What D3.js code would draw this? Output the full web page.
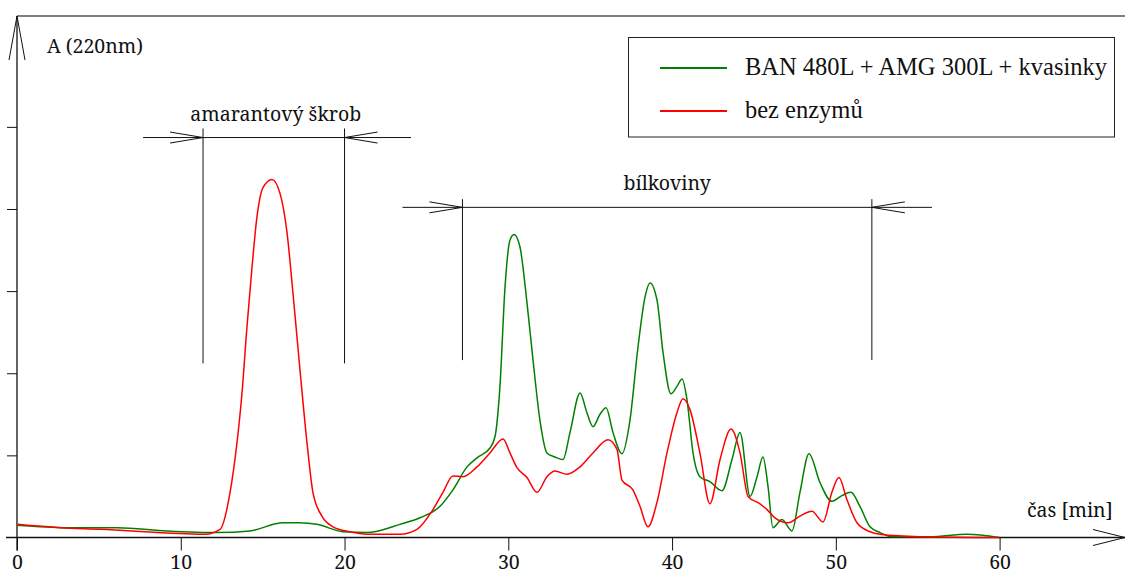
<!DOCTYPE html>
<html>
<head>
<meta charset="utf-8">
<script src="https://cdn.jsdelivr.net/npm/d3@7"></script>
<style>
  html, body { margin: 0; padding: 0; background: #fff; }
  svg { display: block; }
  .lbl { font-family: "Noto Sans", serif; font-family: "Noto Serif", "Liberation Serif", serif; font-size: 19.5px; fill: #111; }
  .leg { font-family: "Liberation Serif", "Times New Roman", serif; font-size: 24.5px; fill: #111; }
</style>
</head>
<body>
<svg id="chart" width="1125" height="574"></svg>
<script>
// Retention time [min] and absorbance at 220 nm for each run
const enzymeTime = [0, 3.05, 6.11, 9.16, 12.21, 14.23, 16.24, 17.28, 18.32, 19.91, 21.37, 23.39, 24.61,
  25.83, 26.62, 27.48, 28.09, 28.88, 29.19, 29.49, 29.80, 30.10, 30.35, 30.71, 31.14, 31.51, 31.93,
  32.36, 32.85, 33.34, 33.77, 34.38, 34.80, 35.17, 35.60, 35.97, 36.39, 36.94, 37.43, 37.92, 38.35,
  38.65, 39.08, 39.45, 39.93, 40.30, 40.61, 40.91, 41.28, 41.70, 42.31, 43.05, 43.66, 44.15, 44.76,
  45.19, 45.55, 45.86, 46.16, 46.71, 47.32, 47.81, 48.36, 49.03, 49.76, 50.37, 50.92, 51.47, 52.09,
  52.70, 53.37, 55.75, 58.01, 59.96];
const enzymeValue = [0.15, 0.12, 0.12, 0.08, 0.06, 0.08, 0.18, 0.18, 0.16, 0.07, 0.06, 0.16, 0.24,
  0.38, 0.58, 0.86, 0.97, 1.09, 1.23, 1.84, 3.05, 3.62, 3.69, 3.54, 2.86, 2.16, 1.43,
  1.03, 0.98, 0.95, 1.28, 1.76, 1.52, 1.35, 1.50, 1.58, 1.28, 1.02, 1.43, 2.32, 2.93,
  3.10, 2.89, 2.25, 1.75, 1.84, 1.93, 1.68, 1.03, 0.74, 0.68, 0.57, 0.95, 1.28, 0.50,
  0.74, 0.98, 0.62, 0.12, 0.22, 0.08, 0.55, 1.02, 0.67, 0.44, 0.51, 0.55, 0.38, 0.13,
  0.06, 0.01, 0.01, 0.04, 0.00];

const plainTime = [0, 2.63, 5.07, 9.95, 11.48, 12.40, 13.01, 13.43, 13.74, 14.04, 14.35, 14.65, 15.02,
  15.57, 16.06, 16.49, 16.85, 17.28, 17.71, 18.07, 18.62, 19.30, 20.33, 21.37, 23.39, 24.42, 25.40,
  26.01, 26.62, 27.23, 28.09, 28.88, 29.68, 30.10, 30.53, 31.14, 31.75, 32.36, 32.85, 33.58, 34.38,
  35.17, 36.09, 36.64, 36.94, 37.61, 38.04, 38.53, 39.08, 39.69, 40.30, 40.67, 41.09, 41.70, 42.31,
  42.93, 43.60, 44.15, 44.64, 45.37, 45.80, 46.28, 47.08, 47.81, 48.54, 49.22, 49.76, 50.19, 50.68,
  51.29, 52.09, 52.70, 55.14, 59.96];
const plainValue = [0.16, 0.12, 0.10, 0.05, 0.04, 0.10, 0.55, 1.15, 1.76, 2.56, 3.29, 3.90, 4.26,
  4.36, 4.19, 3.71, 2.98, 2.04, 1.15, 0.55, 0.26, 0.13, 0.07, 0.04, 0.04, 0.10, 0.34,
  0.55, 0.75, 0.74, 0.86, 1.03, 1.20, 1.03, 0.85, 0.73, 0.55, 0.74, 0.81, 0.77, 0.86,
  1.03, 1.19, 1.07, 0.70, 0.58, 0.38, 0.13, 0.43, 1.03, 1.52, 1.69, 1.56, 1.03, 0.41,
  0.95, 1.32, 1.03, 0.50, 0.41, 0.34, 0.24, 0.18, 0.26, 0.32, 0.19, 0.55, 0.73, 0.46,
  0.18, 0.07, 0.04, 0.01, 0.00];

const seriesNames = ["BAN 480L + AMG 300L + kvasinky", "bez enzymů"];
const seriesColors = ["#008000", "#ff0000"];
const xTicks = [0, 10, 20, 30, 40, 50, 60];
const yTicks = [1, 2, 3, 4, 5];

// Bracketed regions: [start, end] in minutes, bracket height, vertical drop, outer extent
const regionNames = ["amarantový škrob", "bílkoviny"];
const regionSpans = [[11.36, 20.0], [27.2, 52.2]];
const regionLevel = [4.87, 4.02];
const regionTop = [4.98, 4.12];
const regionBottom = [2.12, 2.16];
const regionOuter = [[7.7, 24.06], [23.54, 55.87]];

const svg = d3.select("#chart");
const x = d3.scaleLinear().domain([0, 60]).range([17, 999.6]);
const y = d3.scaleLinear().domain([0, 6.35]).range([537.5, 16]);

// frame top edge
svg.append("line").attr("x1", x(0)).attr("x2", 1125).attr("y1", y(6.35)).attr("y2", y(6.35))
  .attr("stroke", "#808080").attr("stroke-width", 2);

// x axis
const xAxis = svg.append("g").attr("transform", `translate(0,${y(0)})`)
  .call(d3.axisBottom(x).tickValues(xTicks).tickSize(13).tickFormat(d3.format("d")));
xAxis.select(".domain").remove();
xAxis.selectAll(".tick line").attr("stroke", "#111");
xAxis.selectAll(".tick text").attr("class", "lbl").attr("y", 31.5).attr("dy", null)
  .style("font-family", "'Noto Serif', serif").style("font-size", "19.5px").attr("fill", "#111");
svg.append("line").attr("x1", 6).attr("x2", 1125).attr("y1", y(0)).attr("y2", y(0))
  .attr("stroke", "#111").attr("stroke-width", 1.3);
svg.append("path")
  .attr("d", `M${1093},${y(0) - 8}L1125,${y(0)}L${1093},${y(0) + 8}`)
  .attr("fill", "none").attr("stroke", "#111");

// y axis
const yAxis = svg.append("g").attr("transform", `translate(${x(0)},0)`)
  .call(d3.axisLeft(y).tickValues(yTicks).tickSize(10).tickFormat(""));
yAxis.select(".domain").remove();
yAxis.selectAll(".tick line").attr("stroke", "#111");
svg.append("line").attr("x1", x(0)).attr("x2", x(0)).attr("y1", y(6.35)).attr("y2", y(0) + 13)
  .attr("stroke", "#111").attr("stroke-width", 1.3);
svg.append("path")
  .attr("d", `M${x(0) - 8},${y(6.35) + 44}L${x(0)},${y(6.35)}L${x(0) + 8},${y(6.35) + 44}`)
  .attr("fill", "none").attr("stroke", "#111");

svg.append("text").attr("class", "lbl").attr("x", 47).attr("y", 53).text("A (220nm)");
svg.append("text").attr("class", "lbl").attr("x", 1027).attr("y", 517).text("čas [min]");

// region brackets
regionNames.forEach((name, i) => {
  const [a, b] = regionSpans[i];
  const [o1, o2] = regionOuter[i];
  const g = svg.append("g").attr("stroke", "#111").attr("fill", "none").attr("stroke-width", 1);
  const ly = y(regionLevel[i]);
  g.append("line").attr("x1", x(o1)).attr("x2", x(o2)).attr("y1", ly).attr("y2", ly);
  [a, b].forEach(t => {
    g.append("line").attr("x1", x(t)).attr("x2", x(t))
      .attr("y1", y(regionTop[i])).attr("y2", y(regionBottom[i]));
  });
  const len = 33, sp = 5.5;
  g.append("path").attr("d", `M${x(a) - len},${ly - sp}L${x(a)},${ly}L${x(a) - len},${ly + sp}`);
  g.append("path").attr("d", `M${x(b) + len},${ly - sp}L${x(b)},${ly}L${x(b) + len},${ly + sp}`);
  svg.append("text").attr("class", "lbl").attr("text-anchor", "middle")
    .attr("x", (x(a) + x(b)) / 2 + (i === 0 ? 2 : 0)).attr("y", ly - 17).text(name);
});

// chromatogram traces
const line = d3.line().x(d => x(d[0])).y(d => y(d[1])).curve(d3.curveMonotoneX);
const traces = [d3.zip(enzymeTime, enzymeValue), d3.zip(plainTime, plainValue)];
traces.forEach((pts, i) => {
  svg.append("path").datum(pts).attr("d", line)
    .attr("fill", "none").attr("stroke", seriesColors[i]).attr("stroke-width", 1.5);
});

// legend
const leg = svg.append("g");
leg.append("rect").attr("x", 628.5).attr("y", 37.5).attr("width", 486).attr("height", 99.5)
  .attr("fill", "#fff").attr("stroke", "#222").attr("stroke-width", 1);
seriesNames.forEach((name, i) => {
  const ly = 68 + i * 43;
  leg.append("line").attr("x1", 660).attr("x2", 727).attr("y1", ly).attr("y2", ly)
    .attr("stroke", seriesColors[i]).attr("stroke-width", 2);
  leg.append("text").attr("class", "leg").attr("x", 745).attr("y", ly + 7).text(name);
});
</script>
</body>
</html>
